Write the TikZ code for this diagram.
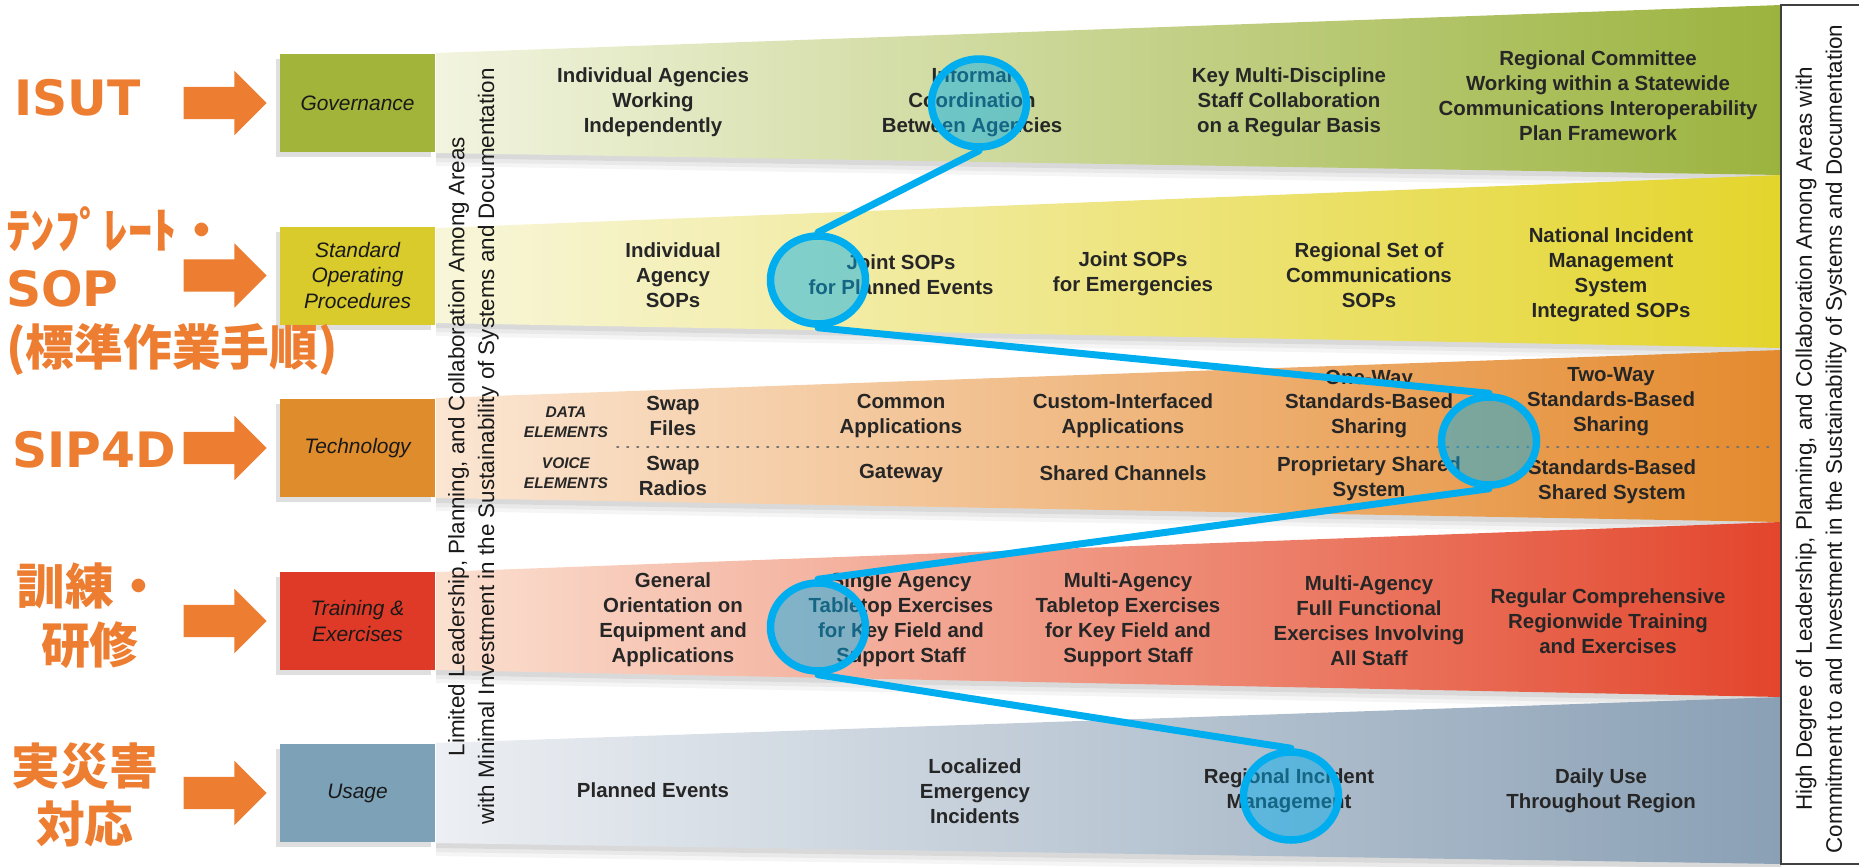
\documentclass[tikz,border=0pt]{standalone}
\usepackage{fontspec}
\setmainfont{Liberation Sans}
\newfontfamily\jpfont{Noto Sans CJK JP}
\newfontfamily\calloutlatin{DejaVu Sans}
\usetikzlibrary{positioning,shapes.geometric,shapes.arrows,shadows}

\definecolor{callout}{HTML}{ED7D31}
\definecolor{ringblue}{HTML}{00AEEF}
\definecolor{govgreen}{HTML}{A3B43A}
\definecolor{sopyellow}{HTML}{D8CB2B}
\definecolor{techorange}{HTML}{DF8C2C}
\definecolor{trainred}{HTML}{DF3A27}
\definecolor{usageblue}{HTML}{7DA2B8}
\definecolor{inktext}{HTML}{262626}
\definecolor{gov-l}{HTML}{F2F4DF}\definecolor{gov-m}{HTML}{D3DCA2}\definecolor{gov-r}{HTML}{9BB33E}
\definecolor{sop-l}{HTML}{F8F6DA}\definecolor{sop-m}{HTML}{F2EAAE}\definecolor{sop-r}{HTML}{E4D52C}
\definecolor{tech-l}{HTML}{FBE6D3}\definecolor{tech-m}{HTML}{F4C394}\definecolor{tech-r}{HTML}{E48A2E}
\definecolor{train-l}{HTML}{FBE0D0}\definecolor{train-m}{HTML}{F0A484}\definecolor{train-r}{HTML}{E3452C}
\definecolor{usage-l}{HTML}{ECEFF3}\definecolor{usage-m}{HTML}{C8D0DA}\definecolor{usage-r}{HTML}{8AA0B5}

\tikzset{
    label-box/.style = {rectangle, minimum width=155bp, minimum height=98bp, inner sep=2pt, align=center,
        font=\fontsize{21}{26}\selectfont\itshape, text=black!90,
        drop shadow={shadow xshift=-4bp, shadow yshift=-5bp, opacity=.25}},
    band-text/.style = {align=center, inner sep=0pt, text=inktext, font=\fontsize{20.5}{25}\selectfont\bfseries},
    element-text/.style = {align=center, inner sep=0pt, text=inktext, font=\fontsize{15.5}{20}\selectfont\bfseries\itshape},
    side-text/.style = {rotate=90, align=center, inner sep=0pt, text=black!90, font=\fontsize{22.5}{30}\selectfont},
    orange-text/.style = {inner sep=0pt, text=callout, font=\fontsize{49}{59}\selectfont\jpfont\bfseries},
    orange-arrow/.style = {single arrow, fill=callout, minimum height=83bp, inner xsep=0pt, inner ysep=16bp,
        single arrow head extend=16bp},
    element-rule/.style = {black!55, line width=1.6bp, line cap=round, dash pattern=on 1.5bp off 8.5bp},
    ring/.style = {ellipse, draw=ringblue, line width=7.5bp, fill=ringblue, fill opacity=.47,
        minimum width=95bp, minimum height=88bp, inner sep=0pt},
    link/.style = {draw=ringblue, line width=7bp, line cap=round},
}

\newcommand{\drawband}[5]{%
  \foreach \s/\o in {13/.04, 9/.05, 5/.07}
    \fill[black, opacity=\o] (436,#1+\s) -- (1781,#3+\s) -- (1781,#4+\s) -- (436,#2+\s) -- cycle;
  \shade[left color=#5-l, middle color=#5-m, right color=#5-r] (436,#1) -- (1781,#3) -- (1781,#4) -- (436,#2) -- cycle;
}

\begin{document}
\begin{tikzpicture}[x=1bp, y=-1bp]
\useasboundingbox (0,0) rectangle (1859,867);

\drawband{53}{153}{5}{175}{gov}
\drawband{228}{323}{175}{348}{sop}
\drawband{398}{498}{350}{522}{tech}
\drawband{572}{670}{522}{697}{train}
\drawband{743}{843}{697}{864}{usage}

\node[label-box, fill=govgreen] (gov-box) at (357.5,103) {Governance};
\node[label-box, fill=sopyellow] (sop-box) at (357.5,275.5) {Standard\\Operating\\Procedures};
\node[label-box, fill=techorange] (tech-box) at (357.5,448) {Technology};
\node[label-box, fill=trainred] (train-box) at (357.5,621) {Training \&\\Exercises};
\node[label-box, fill=usageblue] (usage-box) at (357.5,793) {Usage};

\node[orange-arrow, left=13bp of gov-box] (gov-arrow) {};
\node[orange-arrow, left=13bp of sop-box] (sop-arrow) {};
\node[orange-arrow, left=13bp of tech-box] (tech-arrow) {};
\node[orange-arrow, left=13bp of train-box] (train-arrow) {};
\node[orange-arrow, left=13bp of usage-box] (usage-arrow) {};

\node[orange-text, anchor=base west] (isut) at (14,115) {\calloutlatin\bfseries ISUT};
\node[orange-text, anchor=west, align=left] (sop-name) at (6,291) {ﾃﾝﾌﾟﾚｰﾄ・\\{\calloutlatin\bfseries SOP}\\(標準作業手順)};
\node[orange-text, anchor=base west] (sip4d) at (12,467) {\calloutlatin\bfseries SIP4D};
\node[orange-text, align=center] (training-name) at (90,616) {訓練・\\研修};
\node[orange-text, align=center] (disaster-name) at (85,795) {実災害\\対応};

\node[band-text] (gov-1) at (653,102) {Individual Agencies\\Working\\Independently};
\node[band-text] (gov-2) at (972,102) {Informal\\Coordination\\Between Agencies};
\node[band-text] (gov-3) at (1289,102) {Key Multi-Discipline\\Staff Collaboration\\on a Regular Basis};
\node[band-text] (gov-4) at (1598,96) {Regional Committee\\Working within a Statewide\\Communications Interoperability\\Plan Framework};

\node[band-text] (sop-1) at (673,275) {Individual\\Agency\\SOPs};
\node[band-text] (sop-2) at (901,275) {Joint SOPs\\for Planned Events};
\node[band-text] (sop-3) at (1133,274) {Joint SOPs\\for Emergencies};
\node[band-text] (sop-4) at (1369,275) {Regional Set of\\Communications\\SOPs};
\node[band-text] (sop-5) at (1611,275) {National Incident\\Management\\System\\Integrated SOPs};

\node[element-text] (data-el) at (566,422) {DATA\\ELEMENTS};
\node[element-text] (voice-el) at (566,473) {VOICE\\ELEMENTS};
\draw[element-rule] (617,447) -- (1776,447);
\node[band-text] (data-1) at (673,416) {Swap\\Files};
\node[band-text] (data-2) at (901,416) {Common\\Applications};
\node[band-text] (data-3) at (1123,416) {Custom-Interfaced\\Applications};
\node[band-text] (data-4) at (1369,404) {One-Way\\Standards-Based\\Sharing};
\node[band-text] (data-5) at (1611,402) {Two-Way\\Standards-Based\\Sharing};
\node[band-text] (voice-1) at (673,476) {Swap\\Radios};
\node[band-text] (voice-2) at (901,473) {Gateway};
\node[band-text] (voice-3) at (1123,473) {Shared Channels};
\node[band-text] (voice-4) at (1369,479) {Proprietary Shared\\System};
\node[band-text] (voice-5) at (1612,482) {Standards-Based\\Shared System};

\node[band-text] (train-1) at (673,620) {General\\Orientation on\\Equipment and\\Applications};
\node[band-text] (train-2) at (901,620) {Single Agency\\Tabletop Exercises\\for Key Field and\\Support Staff};
\node[band-text] (train-3) at (1128,620) {Multi-Agency\\Tabletop Exercises\\for Key Field and\\Support Staff};
\node[band-text] (train-4) at (1369,621) {Multi-Agency\\Full Functional\\Exercises Involving\\All Staff};
\node[band-text] (train-5) at (1608,621) {Regular Comprehensive\\Regionwide Training\\and Exercises};

\node[band-text] (usage-1) at (653,790) {Planned Events};
\node[band-text] (usage-2) at (975,791) {Localized\\Emergency\\Incidents};
\node[band-text] (usage-3) at (1289,791) {Regional Incident\\Management};
\node[band-text] (usage-4) at (1601,791) {Daily Use\\Throughout Region};

\node[side-text] (low-end) at (473.5,446.5) {Limited Leadership, Planning, and Collaboration Among Areas\\with Minimal Investment in the Sustainability of Systems and Documentation};
\draw[black!75, line width=1.2bp, fill=white] (1781,5) rectangle (1880,864);
\node[side-text] (high-end) at (1821,439) {High Degree of Leadership, Planning, and Collaboration Among Areas with\\Commitment to and Investment in the Sustainability of Systems and Documentation};

\node[ring] (ring-gov) at (979,103) {};
\node[ring] (ring-sop) at (818,280) {};
\node[ring] (ring-tech) at (1489,441) {};
\node[ring] (ring-train) at (818,627) {};
\node[ring] (ring-usage) at (1291,796) {};
\draw[link] (ring-gov.south) -- (ring-sop.north);
\draw[link] (ring-sop.south) -- (ring-tech.north);
\draw[link] (ring-tech.south) -- (ring-train.north);
\draw[link] (ring-train.south) -- (ring-usage.north);
\end{tikzpicture}
\end{document}
